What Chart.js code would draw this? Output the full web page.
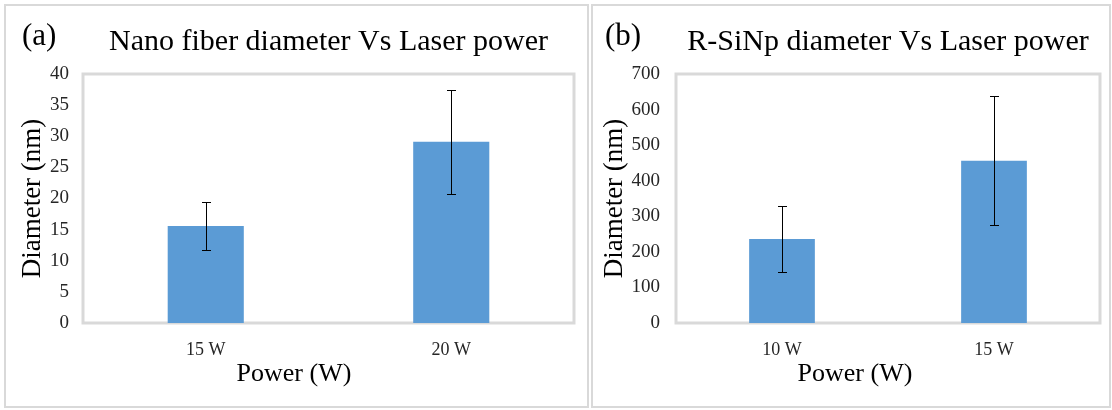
<!DOCTYPE html>
<html>
<head>
<meta charset="utf-8">
<script src="https://cdn.jsdelivr.net/npm/chart.js@4.4.0/dist/chart.umd.min.js"></script>
<style>
  body { margin: 0; width: 1112px; height: 410px; background: #fff; position: relative; overflow: hidden; font-family: "Liberation Serif", "Times New Roman", serif; }
  .panel { position: absolute; top: 4px; height: 400px; border: 2px solid #d9d9d9; background: #fff; }
  #panelA { left: 4px; width: 581px; }
  #panelB { left: 591px; width: 516px; }
  .panel canvas { position: absolute; left: 0; top: 0; }
  .tag { position: absolute; top: 19px; font-size: 31px; line-height: 1; color: #000; }
  .xtitle { position: absolute; top: 360px; width: 200px; margin-left: -100px; text-align: center; font-size: 26px; line-height: 1; color: #000; white-space: nowrap; }
</style>
</head>
<body>
<div class="panel" id="panelA"><canvas id="chartA" width="581" height="400"></canvas></div>
<div class="panel" id="panelB"><canvas id="chartB" width="516" height="400"></canvas></div>
<div class="tag" style="left:22px">(a)</div>
<div class="tag" style="left:605px">(b)</div>
<div class="xtitle" style="left:294px">Power (W)</div>
<div class="xtitle" style="left:855px">Power (W)</div>
<script>
// Données
const labelsA = ['15 W', '20 W'];
const diameterA = [15.6, 29.1];
const errorA = [3.8, 8.4];

const labelsB = ['10 W', '15 W'];
const diameterB = [236, 456];
const errorB = [94, 181];

const FONT = '"Liberation Serif", "Times New Roman", serif';

// Cadre gris autour de la zone de tracé
const plotFrame = {
  id: 'plotFrame',
  beforeDatasetsDraw(chart) {
    const { ctx, chartArea: a } = chart;
    ctx.save();
    ctx.strokeStyle = '#d9d9d9';
    ctx.lineWidth = 3;
    ctx.strokeRect(a.left, a.top, a.right - a.left, a.bottom - a.top);
    ctx.restore();
  }
};

// Barres d'erreur (écart-type)
const errorBars = {
  id: 'errorBars',
  afterDatasetsDraw(chart, args, opts) {
    const { ctx } = chart;
    const yScale = chart.scales.y;
    const values = chart.data.datasets[0].data;
    const meta = chart.getDatasetMeta(0);
    ctx.save();
    ctx.strokeStyle = '#000';
    ctx.lineWidth = 1;
    meta.data.forEach((bar, i) => {
      const x = Math.round(bar.x) + 0.5;
      const yTop = Math.round(yScale.getPixelForValue(values[i] + opts.errors[i])) + 0.5;
      const yBot = Math.round(yScale.getPixelForValue(values[i] - opts.errors[i])) + 0.5;
      ctx.beginPath();
      ctx.moveTo(x, yTop); ctx.lineTo(x, yBot);
      ctx.moveTo(x - 4.5, yTop); ctx.lineTo(x + 4.5, yTop);
      ctx.moveTo(x - 4.5, yBot); ctx.lineTo(x + 4.5, yBot);
      ctx.stroke();
    });
    ctx.restore();
  }
};

function makeChart(id, labels, values, errors, title, yMax, yStep, cfg) {
  return new Chart(document.getElementById(id), {
    type: 'bar',
    data: {
      labels: labels,
      datasets: [{
        data: values,
        backgroundColor: '#5b9bd5',
        borderWidth: 0,
        barPercentage: 0.31,
        categoryPercentage: 1
      }]
    },
    options: {
      responsive: false,
      animation: false,
      layout: { padding: { left: 0, right: cfg.padRight, top: 0, bottom: 0 } },
      plugins: {
        legend: { display: false },
        tooltip: { enabled: false },
        title: {
          display: true,
          text: title,
          fullSize: false,
          color: '#000',
          font: { family: FONT, size: 30, weight: 'normal' },
          padding: { top: 18, bottom: 14 }
        },
        errorBars: { errors: errors }
      },
      scales: {
        x: {
          grid: { display: false, drawTicks: false },
          border: { display: false },
          ticks: { color: '#262626', font: { family: FONT, size: 18 }, padding: 16 },
          title: { display: false },
          afterFit: (s) => { s.height = 83; }
        },
        y: {
          min: 0,
          max: yMax,
          grid: { display: false, drawTicks: false },
          border: { display: false },
          ticks: { stepSize: yStep, color: '#262626', font: { family: FONT, size: 19 }, padding: cfg.tickPad },
          title: {
            display: true,
            text: 'Diameter (nm)',
            color: '#000',
            font: { family: FONT, size: 27 },
            padding: cfg.titlePad
          },
          afterFit: (s) => { s.width = cfg.axisWidth; }
        }
      }
    },
    plugins: [plotFrame, errorBars]
  });
}

makeChart('chartA', labelsA, diameterA, errorA, 'Nano fiber diameter Vs Laser power', 40, 5,
  { axisWidth: 77, padRight: 13, tickPad: 14, titlePad: 11 });
makeChart('chartB', labelsB, diameterB, errorB, 'R-SiNp diameter Vs Laser power', 700, 100,
  { axisWidth: 83, padRight: 9, tickPad: 16, titlePad: 6 });
</script>
</body>
</html>
